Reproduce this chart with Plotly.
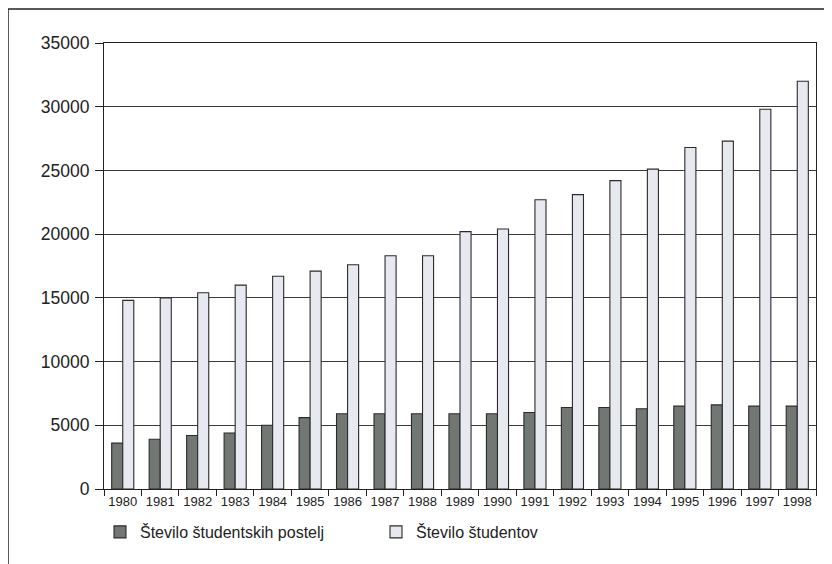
import plotly.graph_objects as go

years = [str(y) for y in range(1980, 1999)]
postelje = [3600, 3900, 4200, 4400, 5000, 5600, 5900, 5900, 5900, 5900,
            5900, 6000, 6400, 6400, 6300, 6500, 6600, 6500, 6500]
studenti = [14800, 15000, 15400, 16000, 16700, 17100, 17600, 18300, 18300, 20200,
            20400, 22700, 23100, 24200, 25100, 26800, 27300, 29800, 32000]
name_postelje = "Število študentskih postelj"
name_studenti = "Število študentov"

W, H = 832, 564
OFF = 8  # page body margin
# target plot area in window pixels: x 104..816, y 43..489
ML = 104 - OFF
MT = 43 - OFF
MR = W - (816 - OFF)
MB = H - (489 - OFF)
PW, PH = W - ML - MR, H - MT - MB

def px_x(p):
    return (p - OFF - ML) / PW

def px_y(p):
    return (H - MB - (p - OFF)) / PH

outline = "#2b2b2b"
fig = go.Figure()
fig.add_trace(go.Bar(x=years, y=postelje, name=name_postelje,
                     marker=dict(color="#717873", line=dict(color=outline, width=1.1))))
fig.add_trace(go.Bar(x=years, y=studenti, name=name_studenti,
                     marker=dict(color="#e6e9ef", line=dict(color=outline, width=1.1))))

fig.update_layout(
    width=W, height=H,
    margin=dict(l=ML, r=MR, t=MT, b=MB),
    paper_bgcolor="white", plot_bgcolor="white",
    barmode="group", bargap=0.41, bargroupgap=0.0,
    font=dict(family="Liberation Sans, Arial, sans-serif", color="#222222"),
    showlegend=True,
    legend=dict(orientation="h", x=px_x(100), xanchor="left",
                y=px_y(532), yanchor="middle",
                font=dict(size=16, color="#222222"),
                entrywidth=231, entrywidthmode="pixels",
                bgcolor="rgba(0,0,0,0)", traceorder="normal"),
    shapes=[
        dict(type="line", xref="paper", yref="paper",
             x0=px_x(8), x1=px_x(8), y0=px_y(9), y1=px_y(580),
             line=dict(color="#222222", width=1.5)),
        dict(type="line", xref="paper", yref="paper",
             x0=px_x(8), x1=px_x(850), y0=px_y(9), y1=px_y(9),
             line=dict(color="#222222", width=1.5)),
    ],
)
fig.update_xaxes(type="category", tickson="boundaries", ticks="outside",
                 ticklen=6, tickcolor="#222222", showline=True, linecolor="#222222",
                 linewidth=1.2, mirror=True, showgrid=False, tickangle=0,
                 tickfont=dict(size=13, color="#222222"))
fig.update_yaxes(range=[0, 35000], dtick=5000, tickformat="d", ticks="outside",
                 ticklen=8, tickcolor="#222222", showline=True, linecolor="#222222",
                 linewidth=1.2, mirror=True, showgrid=True, gridcolor="#3a3a3a",
                 gridwidth=1, zeroline=False, ticklabelstandoff=2,
                 tickfont=dict(size=17.5, color="#222222"))

fig.write_html("out.html")
